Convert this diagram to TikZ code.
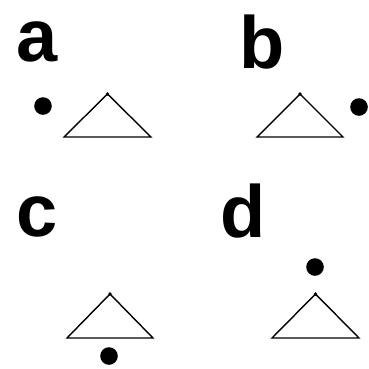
\documentclass[tikz,border=0pt]{standalone}
\usepackage{fontspec}
\setmainfont{Liberation Sans}
\begin{document}
\begin{tikzpicture}[x=1pt,y=-1pt,
  lbl/.style={inner sep=0pt,anchor=base west,font=\fontsize{74}{74}\selectfont\bfseries},
  tri/.style={draw=black,line width=1.4pt,line join=miter},
  bigdot/.style={fill=black},
  apexdot/.style={fill=black}]
\useasboundingbox (0,0) rectangle (369,368);
% labels
\node[lbl] (la) at (16,61) {a};
\node[lbl] (lb) at (239,68) {b};
\node[lbl] (lc) at (16,236) {c};
\node[lbl] (ld) at (220,237) {d};
% triangle a
\draw[tri] (64,137) -- (107.5,94) -- (151,137) -- cycle;
\fill[apexdot] (107.5,94) circle (1.8);
\fill[bigdot] (43,106) circle (8.8);
% triangle b
\draw[tri] (257,137) -- (300,94) -- (343,137) -- cycle;
\fill[apexdot] (300,94) circle (1.8);
\fill[bigdot] (359,107) circle (8.8);
% triangle c
\draw[tri] (67,338) -- (110,294) -- (153,338) -- cycle;
\fill[apexdot] (110,294) circle (1.8);
\fill[bigdot] (109,356) circle (8.8);
% triangle d
\draw[tri] (272,338) -- (315.5,294) -- (359,338) -- cycle;
\fill[apexdot] (315.5,294) circle (1.8);
\fill[bigdot] (315,267) circle (8.8);
\end{tikzpicture}
\end{document}
